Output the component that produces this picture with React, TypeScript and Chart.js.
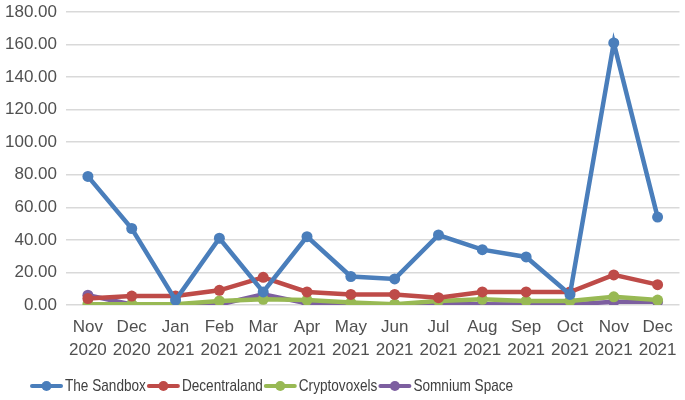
import React, { useEffect, useRef } from "react";
import { Chart, registerables } from "chart.js";

Chart.register(...registerables);

const categories: string[][] = [
  ["Nov", "2020"], ["Dec", "2020"], ["Jan", "2021"], ["Feb", "2021"], ["Mar", "2021"],
  ["Apr", "2021"], ["May", "2021"], ["Jun", "2021"], ["Jul", "2021"], ["Aug", "2021"],
  ["Sep", "2021"], ["Oct", "2021"], ["Nov", "2021"], ["Dec", "2021"],
];

const sandbox = [79, 47, 3, 41, 8, 42, 17.5, 16, 43, 34, 29.5, 6.5, 161, 54];
const decentraland = [4, 5.5, 5.5, 9, 17, 8, 6.5, 6.5, 4.5, 8, 8, 8, 18.5, 12.5];
const cryptovoxels = [0.5, 0.5, 0.5, 2.5, 3.5, 3, 1.5, 0.5, 2.5, 3.5, 2.5, 2.5, 5, 3];
const somnium = [6, 0.3, 0.3, 0.3, 6.5, 1, 0.5, 0.3, 1, 0.5, 0.3, 0.3, 2, 2];

const seriesNames = ["The Sandbox", "Decentraland", "Cryptovoxels", "Somnium Space"];
const seriesColors = ["#4A7EBB", "#BE4B48", "#98B954", "#7D5FA0"];

const FONT = "Liberation Sans, Arial, sans-serif";

const bottomLegend = {
  id: "bottomLegend",
  afterDraw(chart: any) {
    const ctx = chart.ctx as CanvasRenderingContext2D;
    ctx.save();
    ctx.font = `17px ${FONT}`;
    ctx.textBaseline = "middle";
    ctx.textAlign = "left";
    const sx = 0.8;
    const y = 386;
    let x = 30;
    chart.data.datasets.forEach((ds: any) => {
      const color = ds.borderColor as string;
      ctx.strokeStyle = color;
      ctx.lineWidth = 4;
      ctx.lineCap = "round";
      ctx.beginPath();
      ctx.moveTo(x + 2, y);
      ctx.lineTo(x + 31, y);
      ctx.stroke();
      ctx.fillStyle = color;
      ctx.beginPath();
      ctx.arc(x + 16.5, y, 5, 0, Math.PI * 2);
      ctx.fill();
      x += 35;
      ctx.fillStyle = "#404040";
      ctx.save();
      ctx.translate(x, y);
      ctx.scale(sx, 1);
      ctx.fillText(ds.label, 0, 0);
      ctx.restore();
      x += ctx.measureText(ds.label).width * sx + 1;
    });
    ctx.restore();
  },
};

export default function App() {
  const ref = useRef<HTMLCanvasElement>(null);
  useEffect(() => {
    const values = [sandbox, decentraland, cryptovoxels, somnium];
    const chart = new Chart(ref.current!, {
      type: "line",
      data: {
        labels: categories,
        datasets: values.map((v, i) => ({
          label: seriesNames[i],
          data: v,
          borderColor: seriesColors[i],
          backgroundColor: seriesColors[i],
          borderWidth: 4.5,
          pointRadius: 5.5,
          pointBorderWidth: 0,
          tension: 0,
        })),
      },
      options: {
        animation: false,
        responsive: false,
        maintainAspectRatio: false,
        layout: { padding: { left: 3, right: 0, top: 12, bottom: 30 } },
        scales: {
          x: {
            offset: true,
            grid: { display: false, drawTicks: false },
            border: { display: false },
            afterFit: (s: any) => {
              s.height = 65;
              s.paddingLeft = 0;
              s.paddingRight = 0;
            },
            ticks: {
              color: "#505050",
              font: { family: FONT, size: 17, lineHeight: 1.35 },
              maxRotation: 0,
              autoSkip: false,
              padding: 11,
            },
          },
          y: {
            min: 0,
            max: 180,
            afterFit: (s: any) => {
              s.width = 63;
              s.paddingTop = 0;
              s.paddingBottom = 0;
            },
            grid: { color: "#D9D9D9", lineWidth: 1.5, drawTicks: false },
            border: { display: false },
            ticks: {
              stepSize: 20,
              color: "#505050",
              font: { family: FONT, size: 17 },
              padding: 9,
              callback: (v: any) => Number(v).toFixed(2),
            },
          },
        },
        plugins: {
          tooltip: { enabled: false },
          legend: { display: false },
        },
      },
      plugins: [bottomLegend],
    });
    return () => chart.destroy();
  }, []);
  return (
    <div style={{ position: "fixed", left: 0, top: 0, width: 685, height: 400, background: "#fff" }}>
      <canvas ref={ref} width={685} height={400} />
    </div>
  );
}
